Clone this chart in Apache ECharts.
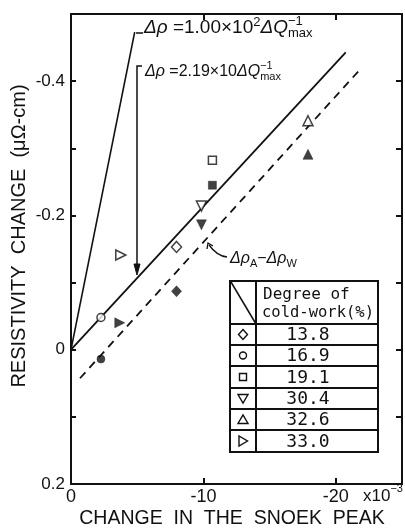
<!DOCTYPE html>
<html><head><meta charset="utf-8">
<script src="https://cdn.jsdelivr.net/npm/echarts@6/dist/echarts.min.js"></script>
<style>html,body{margin:0;padding:0;background:#fff}#c{width:405px;height:531px}</style>
</head><body><div id="c"></div>
<script>
// ---- data ----
const xTickValues = [0, -10, -20];
const xMirrorTicks = [-10, -20];
const yLabelValues = [-0.4, -0.2, 0, 0.2];
const yTickValues = [-0.4, -0.3, -0.2, -0.1, 0, 0.1, 0.2];
const coldWork = ['13.8', '16.9', '19.1', '30.4', '32.6', '33.0'];
const openX   = [-7.97, -2.26, -10.68, -9.85, -17.9, -3.76];
const openY   = [-0.153, -0.048, -0.282, -0.214, -0.341, -0.141];
const filledX = [-7.97, -2.26, -10.68, -9.85, -17.9, -3.68];
const filledY = [-0.087, 0.014, -0.245, -0.186, -0.291, -0.040];
const steepLine  = [[0, 0], [-4.81, -0.473]];
const solidLine  = [[0, 0], [-20.75, -0.443]];
const dashedLine = [[-0.68, 0.0425], [-21.95, -0.42]];

// ---- styles ----
const INK = '#111';
const symbols = [
  {symbol: 'diamond', rot: 0, size: [10, 11]},
  {symbol: 'circle', rot: 0, size: 8},
  {symbol: 'rect', rot: 0, size: 8},
  {symbol: 'triangle', rot: 180, size: 10},
  {symbol: 'triangle', rot: 0, size: 10},
  {symbol: 'triangle', rot: -90, size: 10}
];
function items(xs, ys) {
  return xs.map((x, i) => ({
    value: [x, ys[i]],
    symbol: symbols[i].symbol,
    symbolRotate: symbols[i].rot,
    symbolSize: symbols[i].size
  }));
}

const chart = echarts.init(document.getElementById('c'), null, {renderer: 'canvas'});

const axisFont = {fontFamily: 'Liberation Sans', fontSize: 17, color: INK};
const lineAxis = {show: true, onZero: false, lineStyle: {color: INK, width: 2}};

// measure helper for formulas
const cv = document.createElement('canvas').getContext('2d');
function w(text, size, italic, fam) {
  cv.font = (italic ? 'italic ' : '') + size + 'px ' + (fam || 'Liberation Sans');
  return cv.measureText(text).width;
}
function formula(x, y, parts, fam) {
  const els = [];
  let cx = x;
  parts.forEach(p => {
    if (p.stack) {
      let mw = 0;
      p.stack.forEach((s) => {
        els.push({type: 'text', x: cx, y: y + s.dy, style: {text: s.t, fontSize: s.size, fontFamily: fam || 'Liberation Sans', fill: INK, align: 'left', verticalAlign: 'middle', textAlign: 'left', textVerticalAlign: 'middle'}});
        mw = Math.max(mw, w(s.t, s.size, false, fam));
      });
      cx += mw;
    } else {
      els.push({type: 'text', x: cx, y: y + (p.dy || 0), style: {text: p.t, fontSize: p.size, fontStyle: p.italic ? 'italic' : 'normal', fontFamily: fam || 'Liberation Sans', fill: INK, align: 'left', verticalAlign: 'middle', textAlign: 'left', textVerticalAlign: 'middle'}});
      cx += w(p.t, p.size, p.italic, fam);
    }
  });
  return els;
}

const g = [];
// formula 1
g.push(...formula(144, 28, [
  {t: 'Δρ', size: 19, italic: true}, {t: ' =1.00×10', size: 19}, {t: '2', size: 13, dy: -6},
  {t: 'ΔQ', size: 19, italic: true},
  {stack: [{t: '−1', size: 13, dy: -7}, {t: 'max', size: 13, dy: 5}]}
]));
g.push({type: 'line', shape: {x1: 136, y1: 33, x2: 143, y2: 33}, style: {stroke: INK, lineWidth: 1.5}});
// formula 2
g.push(...formula(145, 72, [
  {t: 'Δρ', size: 16, italic: true}, {t: ' =2.19×10', size: 16},
  {t: 'ΔQ', size: 16, italic: true},
  {stack: [{t: '−1', size: 11, dy: -6}, {t: 'max', size: 11, dy: 5}]}
]));
g.push({type: 'polyline', shape: {points: [[142, 66], [137, 66], [137, 270]]}, style: {stroke: INK, lineWidth: 1.5, fill: null}});
g.push({type: 'polygon', shape: {points: [[134, 264], [137, 275], [140, 264]]}, style: {fill: INK, stroke: INK, lineWidth: 1}});
// dashed-line label
g.push(...formula(230, 259, [
  {t: 'Δρ', size: 16, italic: true}, {t: 'A', size: 11, dy: 5}, {t: '−', size: 16},
  {t: 'Δρ', size: 16, italic: true}, {t: 'W', size: 11, dy: 5}
]));
g.push({type: 'bezierCurve', shape: {x1: 227, y1: 257, cpx1: 217, cpy1: 256, x2: 209, y2: 245}, style: {stroke: INK, lineWidth: 1.3, fill: null}});
g.push({type: 'polyline', shape: {points: [[207, 249], [208, 243], [213, 246]]}, style: {stroke: INK, lineWidth: 1.3, fill: null}});

// table
const T = {l: 230, r: 378, t: 281, b: 452, c: 256, hb: 324};
const rowLines = [324, 345, 366, 388, 409, 430];
g.push({type: 'rect', shape: {x: T.l, y: T.t, width: T.r - T.l, height: T.b - T.t}, style: {fill: '#fff', stroke: INK, lineWidth: 2}});
g.push({type: 'line', shape: {x1: T.c, y1: T.t, x2: T.c, y2: T.b}, style: {stroke: INK, lineWidth: 2}});
rowLines.forEach(yy => g.push({type: 'line', shape: {x1: T.l, y1: yy, x2: T.r, y2: yy}, style: {stroke: INK, lineWidth: 2}}));
g.push({type: 'line', shape: {x1: T.l + 1, y1: T.t + 1, x2: T.c, y2: T.hb}, style: {stroke: INK, lineWidth: 1.5}});
g.push({type: 'text', x: 263, y: 295, style: {text: 'Degree of', fontSize: 16, fontFamily: 'DejaVu Sans Mono', fill: INK, align: 'left', verticalAlign: 'middle', textAlign: 'left', textVerticalAlign: 'middle'}});
g.push({type: 'text', x: 262, y: 313, style: {text: 'cold-work(%)', fontSize: 15.5, fontFamily: 'DejaVu Sans Mono', fill: INK, align: 'left', verticalAlign: 'middle', textAlign: 'left', textVerticalAlign: 'middle'}});
const rowEdges = [324, 345, 366, 388, 409, 430, 452];
coldWork.forEach((v, i) => {
  const cy = (rowEdges[i] + rowEdges[i + 1]) / 2;
  g.push({type: 'text', x: 308, y: cy + 1, style: {text: v, fontSize: 18, fontFamily: 'DejaVu Sans Mono', fill: INK, align: 'center', verticalAlign: 'middle', textAlign: 'center', textVerticalAlign: 'middle'}});
  const sx = 243, st = {fill: '#fff', stroke: INK, lineWidth: 1.4};
  let el;
  if (i === 0) el = {type: 'polygon', shape: {points: [[sx, cy - 5], [sx + 4.5, cy], [sx, cy + 5], [sx - 4.5, cy]]}, style: st};
  if (i === 1) el = {type: 'circle', shape: {cx: sx, cy: cy, r: 3.5}, style: st};
  if (i === 2) el = {type: 'rect', shape: {x: sx - 3.5, y: cy - 3.5, width: 7, height: 7}, style: st};
  if (i === 3) el = {type: 'polygon', shape: {points: [[sx - 5, cy - 4], [sx + 5, cy - 4], [sx, cy + 4.5]]}, style: st};
  if (i === 4) el = {type: 'polygon', shape: {points: [[sx - 5, cy + 4], [sx + 5, cy + 4], [sx, cy - 4.5]]}, style: st};
  if (i === 5) el = {type: 'polygon', shape: {points: [[sx - 4, cy - 5], [sx - 4, cy + 5], [sx + 4.5, cy]]}, style: st};
  g.push(el);
});

// axis titles and exponent
g.push({type: 'text', x: 19, y: 236, rotation: Math.PI / 2, style: {text: 'RESISTIVITY  CHANGE  (μΩ-cm)', fontSize: 20, fontFamily: 'Liberation Sans', fill: INK, align: 'center', verticalAlign: 'middle', textAlign: 'center', textVerticalAlign: 'middle'}});
g.push({type: 'text', x: 232, y: 519, style: {text: 'CHANGE  IN  THE  SNOEK  PEAK', fontSize: 19.5, fontFamily: 'Liberation Sans', fill: INK, align: 'center', verticalAlign: 'middle', textAlign: 'center', textVerticalAlign: 'middle'}});
g.push(...formula(363, 496, [{t: 'x10', size: 17}, {t: '−3', size: 11, dy: -7}]));

chart.setOption({
  animation: false,
  backgroundColor: '#fff',
  grid: {left: 71, right: 3, top: 14, bottom: 47},
  xAxis: [
    {type: 'value', min: -25, max: 0, inverse: true, position: 'bottom',
     axisLine: lineAxis, splitLine: {show: false},
     axisTick: {inside: true, length: 6, lineStyle: {color: INK, width: 2}, customValues: xTickValues},
     axisLabel: {margin: 4, fontSize: 18, fontFamily: 'Liberation Sans', color: INK, customValues: xTickValues, formatter: v => String(v)}},
    {type: 'value', min: -25, max: 0, inverse: true, position: 'top',
     axisLine: lineAxis, splitLine: {show: false},
     axisTick: {inside: true, length: 6, lineStyle: {color: INK, width: 2}, customValues: xMirrorTicks},
     axisLabel: {show: false}}
  ],
  yAxis: [
    {type: 'value', min: -0.5, max: 0.2, inverse: true, position: 'left',
     axisLine: lineAxis, splitLine: {show: false},
     axisTick: {inside: true, length: 5, lineStyle: {color: INK, width: 2}, customValues: yTickValues},
     axisLabel: Object.assign({margin: 6, customValues: yLabelValues, formatter: v => v === 0 ? '0' : v.toFixed(1)}, axisFont)},
    {type: 'value', min: -0.5, max: 0.2, inverse: true, position: 'right',
     axisLine: lineAxis, splitLine: {show: false},
     axisTick: {inside: true, length: 6, lineStyle: {color: INK, width: 2}, customValues: yTickValues},
     axisLabel: {show: false}}
  ],
  series: [
    {type: 'line', data: steepLine, showSymbol: false, symbol: 'none', lineStyle: {color: INK, width: 1.6}, z: 2},
    {type: 'line', data: solidLine, showSymbol: false, symbol: 'none', lineStyle: {color: INK, width: 1.8}, z: 2},
    {type: 'line', data: dashedLine, showSymbol: false, symbol: 'none', lineStyle: {color: INK, width: 1.8, type: [8, 6]}, z: 2},
    {type: 'scatter', data: items(openX, openY), itemStyle: {color: '#fff', borderColor: INK, borderWidth: 1.5}, z: 3},
    {type: 'scatter', data: items(filledX, filledY), itemStyle: {color: INK, borderColor: INK, borderWidth: 0.5}, z: 3}
  ],
  graphic: g
});
</script></body></html>
